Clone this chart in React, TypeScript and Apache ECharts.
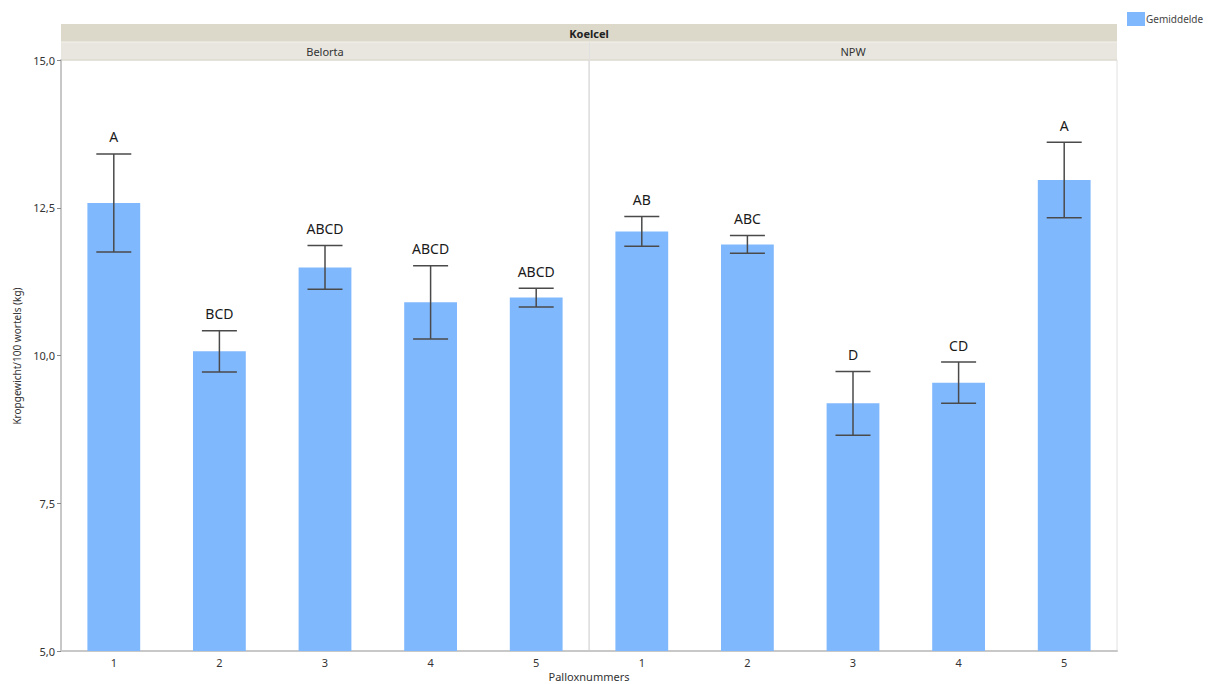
import React, { useEffect, useRef } from "react";
import * as echarts from "echarts";

const panels = ["Belorta", "NPW"];
const pallox = ["1", "2", "3", "4", "5"];
const belortaMean = [12.58, 10.07, 11.49, 10.9, 10.98];
const belortaErr = [0.83, 0.35, 0.37, 0.62, 0.16];
const belortaLetters = ["A", "BCD", "ABCD", "ABCD", "ABCD"];
const npwMean = [12.1, 11.88, 9.19, 9.54, 12.97];
const npwErr = [0.25, 0.15, 0.54, 0.35, 0.64];
const npwLetters = ["AB", "ABC", "D", "CD", "A"];
const yTicks = { min: 5, max: 15, interval: 2.5 };

const FONT = "'Noto Sans', 'DejaVu Sans', sans-serif";
const BAR_COLOR = "#80b8fe";
const ERR_COLOR = "#4a4a4a";

function errSeries(gi: number, means: number[], errs: number[], letters: string[]) {
  return {
    type: "custom",
    xAxisIndex: gi,
    yAxisIndex: gi,
    silent: true,
    z: 5,
    data: means.map((m, i) => [i, m, m - errs[i], m + errs[i]]),
    encode: { x: 0, y: [1, 2, 3] },
    renderItem: (params: any, api: any) => {
      const x = api.value(0);
      const lo = api.coord([x, api.value(2)]);
      const hi = api.coord([x, api.value(3)]);
      const hw = 17.5;
      const style = { stroke: ERR_COLOR, lineWidth: 1.5 };
      return {
        type: "group",
        children: [
          { type: "line", shape: { x1: lo[0], y1: lo[1], x2: hi[0], y2: hi[1] }, style },
          { type: "line", shape: { x1: hi[0] - hw, y1: hi[1], x2: hi[0] + hw, y2: hi[1] }, style },
          { type: "line", shape: { x1: lo[0] - hw, y1: lo[1], x2: lo[0] + hw, y2: lo[1] }, style },
          {
            type: "text",
            x: hi[0],
            y: hi[1] - 10,
            style: {
              text: letters[params.dataIndex],
              fill: "#1a1a1a",
              font: `14px ${FONT}`,
              align: "center",
              verticalAlign: "bottom",
            },
          },
        ],
      };
    },
  };
}

export default function App() {
  const ref = useRef<HTMLDivElement>(null);
  useEffect(() => {
    if (!ref.current) return;
    const chart = echarts.init(ref.current, null, { renderer: "svg" });
    const gridW = 528;
    const grids = [0, 1].map((i) => ({
      left: 61 + i * gridW,
      width: gridW,
      top: 60,
      bottom: 33,
      show: true,
      borderColor: "#e0e0e0",
      borderWidth: 1,
    }));
    const xAxes = [0, 1].map((i) => ({
      type: "category",
      gridIndex: i,
      data: pallox,
      axisLine: { show: true, lineStyle: { color: "#c8c8c8", width: 2 } },
      axisTick: { show: false },
      axisLabel: { color: "#333", fontSize: 11, fontFamily: FONT, margin: 6 },
    }));
    const yAxes = [0, 1].map((i) => ({
      type: "value",
      gridIndex: i,
      min: yTicks.min,
      max: yTicks.max,
      interval: yTicks.interval,
      show: i === 0,
      splitLine: { show: false },
      axisLine: { show: true, lineStyle: { color: "#c8c8c8", width: 2 } },
      axisTick: { show: true, length: 4, lineStyle: { color: "#888" } },
      axisLabel: {
        color: "#333",
        fontSize: 11,
        fontFamily: FONT,
        margin: 6,
        formatter: (v: number) => v.toFixed(1).replace(".", ","),
      },
    }));
    const option: any = {
      animation: false,
      backgroundColor: "#fff",
      textStyle: { fontFamily: FONT },
      legend: {
        left: 1122,
        top: 7,
        itemWidth: 18,
        itemHeight: 14,
        itemGap: 4,
        data: ["Gemiddelde"],
        textStyle: { fontSize: 10, color: "#444", fontFamily: FONT, padding: [0, 0, 0, -4] },
        icon: "rect",
      },
      grid: grids,
      xAxis: xAxes,
      yAxis: yAxes,
      series: [
        {
          name: "Gemiddelde",
          type: "bar",
          xAxisIndex: 0,
          yAxisIndex: 0,
          data: belortaMean,
          barWidth: "50%",
          itemStyle: { color: BAR_COLOR },
        },
        {
          name: "Gemiddelde",
          type: "bar",
          xAxisIndex: 1,
          yAxisIndex: 1,
          data: npwMean,
          barWidth: "50%",
          itemStyle: { color: BAR_COLOR },
        },
        errSeries(0, belortaMean, belortaErr, belortaLetters),
        errSeries(1, npwMean, npwErr, npwLetters),
      ],
      graphic: [
        { type: "rect", shape: { x: 61, y: 24, width: 1056, height: 18 }, style: { fill: "#dcd9cb" } },
        { type: "rect", shape: { x: 61, y: 42, width: 1056, height: 18 }, style: { fill: "#e8e6df" } },
        { type: "line", shape: { x1: 61, y1: 42, x2: 1117, y2: 42 }, style: { stroke: "#f4f2ec", lineWidth: 1 } },
        { type: "line", shape: { x1: 61, y1: 60, x2: 1117, y2: 60 }, style: { stroke: "#d9d5c6", lineWidth: 1 } },
        { type: "line", shape: { x1: 589.5, y1: 42, x2: 589.5, y2: 651 }, style: { stroke: "#e0e0e0", lineWidth: 1 } },
        {
          type: "text",
          x: 589,
          y: 33,
          style: { text: "Koelcel", font: `bold 11px ${FONT}`, fill: "#222", align: "center", verticalAlign: "middle" },
        },
        {
          type: "text",
          x: 325,
          y: 51,
          style: { text: panels[0], font: `11px ${FONT}`, fill: "#333", align: "center", verticalAlign: "middle" },
        },
        {
          type: "text",
          x: 853,
          y: 51,
          style: { text: panels[1], font: `11px ${FONT}`, fill: "#333", align: "center", verticalAlign: "middle" },
        },
        {
          type: "text",
          x: 589,
          y: 676,
          style: { text: "Palloxnummers", font: `11px ${FONT}`, fill: "#333", align: "center", verticalAlign: "middle" },
        },
        {
          type: "text",
          x: 17,
          y: 356,
          rotation: Math.PI / 2,
          style: {
            text: "Kropgewicht/100 wortels (kg)",
            font: `10px ${FONT}`,
            fill: "#333",
            align: "center",
            verticalAlign: "middle",
          },
        },
      ],
    };
    chart.setOption(option);
    return () => chart.dispose();
  }, []);
  return (
    <div
      ref={ref}
      style={{ position: "fixed", left: 0, top: 0, width: 1216, height: 684 }}
    />
  );
}
